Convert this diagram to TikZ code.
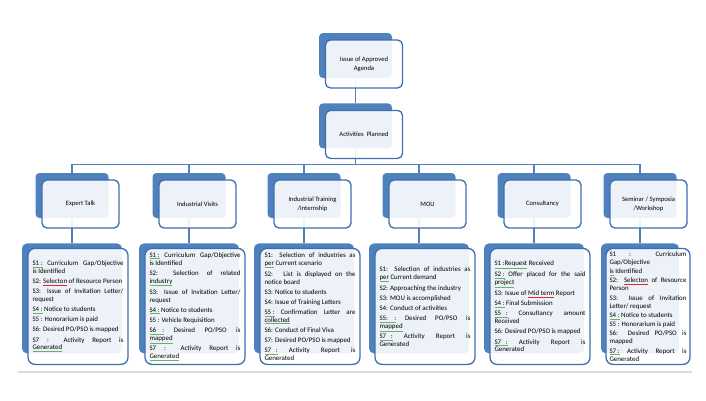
\documentclass[tikz,border=0pt]{standalone}
\usepackage{fontspec}
\setmainfont{Carlito}
\usepackage{xcolor}
\definecolor{cardblue}{RGB}{79,129,189}
\definecolor{cardedge}{RGB}{62,110,176}
\definecolor{rulegray}{RGB}{220,220,220}
\definecolor{gramgreen}{RGB}{100,180,100}
\definecolor{spellred}{RGB}{225,40,40}
\usepackage{tikz}
\usetikzlibrary{positioning,backgrounds,calc}
\newcommand{\gramul}[1]{\textcolor{gramgreen}{\underline{\textcolor{black}{#1}}}}
\newcommand{\spellul}[1]{\textcolor{spellred}{\underline{\textcolor{black}{#1}}}}

\begin{document}
\begin{tikzpicture}[
  x=1pt, y=-1pt,
  font=\fontsize{6.6}{9}\selectfont,
  cardback/.style={fill=cardblue, rounded corners=4pt, minimum width=73pt, minimum height=45pt, inner sep=0pt},
  cardfront/.style={draw=cardedge, line width=1.3pt, fill=white, fill opacity=0.9, text opacity=1, rounded corners=5pt, minimum width=77pt, minimum height=48pt, align=center, inner sep=1pt},
  listback/.style={fill=cardblue, rounded corners=5pt, minimum width=100pt, minimum height=110pt, inner sep=0pt},
  listfront/.style={draw=cardedge, line width=1.3pt, fill=white, fill opacity=0.9, text opacity=1, rounded corners=7pt, minimum width=100pt, minimum height=116pt, text width=91pt, align=justify, inner xsep=4.5pt, inner ysep=1pt, font=\fontsize{6.9}{7.9}\selectfont, execute at begin node={\setlength{\parskip}{2.2pt}}},
  link/.style={draw=cardblue, line width=1.6pt}
]
\useasboundingbox (0,0) rectangle (706,400);

% Agenda and plan
\node[cardback] (agenda) at (355.5,55.5) {};
\node[cardfront] (agendatxt) at ([shift={(8.5,8.5)}]agenda.center) {Issue of Approved\\Agenda};
\node[cardback, below=25pt of agenda] (planned) {};
\node[cardfront] (plannedtxt) at ([shift={(8.5,8.5)}]planned.center) {Activities~~Planned};

% Activities
\node[cardback] (expert) at (72,195.5) {};
\node[cardfront] (experttxt) at ([shift={(8.5,8.5)}]expert.center) {Expert Talk};
\node[cardback] (visits) at (189,195.5) {};
\node[cardfront] (visitstxt) at ([shift={(8.5,8.5)}]visits.center) {Industrial Visits};
\node[cardback] (training) at (304,195.5) {};
\node[cardfront] (trainingtxt) at ([shift={(8.5,8.5)}]training.center) {Industrial Training\\/Internship};
\node[cardback] (mou) at (419,195.5) {};
\node[cardfront] (moutxt) at ([shift={(8.5,8.5)}]mou.center) {MOU};
\node[cardback] (consult) at (534,195.5) {};
\node[cardfront] (consulttxt) at ([shift={(8.5,8.5)}]consult.center) {Consultancy};
\node[cardback] (seminar) at (640,195.5) {};
\node[cardfront] (seminartxt) at ([shift={(8.5,8.5)}]seminar.center) {Seminar / Symposia\\/Workshop};

% Step lists
\node[listback, below=25pt of expert] (expertlist) {};
\node[listfront] (expertitems) at ([shift={(6,8)}]expertlist.center) {%
\gramul{S1 :} Curriculum Gap/Objective\linebreak is Identified\par
S2: \spellul{Selecton} of Resource Person\par
S3: Issue of Invitation Letter/\linebreak request\par
\gramul{S4 :} Notice to students\par
S5 : Honorarium is paid\par
S6: Desired PO/PSO is mapped\par
S7 : Activity Report is\linebreak \gramul{Generated}};

\node[listback, below=25pt of visits] (visitslist) {};
\node[listfront] (visitsitems) at ([shift={(6,8)}]visitslist.center) {%
\gramul{S1 :} Curriculum Gap/Objective\linebreak is Identified\par
S2: Selection of related\linebreak \gramul{industry}\par
S3: Issue of Invitation Letter/\linebreak request\par
\gramul{S4 :} Notice to students\par
S5 : Vehicle Requisition\par
\gramul{S6\ \ \ \ :} Desired PO/PSO is\linebreak \gramul{mapped}\par
S7 : Activity Report is\linebreak \gramul{Generated}};

\node[listback, below=25pt of training] (traininglist) {};
\node[listfront] (trainingitems) at ([shift={(6,8)}]traininglist.center) {%
S1: Selection of industries as\linebreak \gramul{per} Current scenario\par
S2: \ List is displayed on the\linebreak notice board\par
S3: Notice to students\par
S4: Issue of Training Letters\par
\gramul{S5 :} Confirmation Letter are\linebreak \gramul{collected}\par
S6: Conduct of Final Viva\par
S7: Desired PO/PSO is mapped\par
\gramul{S7\ \ \ :} Activity Report is\linebreak Generated};

\node[listback, below=25pt of mou] (moulist) {};
\node[listfront] (mouitems) at ([shift={(6,8)}]moulist.center) {%
S1: Selection of industries as\linebreak \gramul{per} Current demand\par
S2: Approaching the industry\par
S3: MOU is accomplished\par
S4: Conduct of activities\par
\gramul{S5:\ \ \ \ :} Desired PO/PSO is\linebreak \gramul{mapped}\par
\gramul{S7\ \ \ :} Activity Report is\linebreak Generated};

\node[listback, below=25pt of consult] (consultlist) {};
\node[listfront] (consultitems) at ([shift={(6,8)}]consultlist.center) {%
\gramul{S1 :Request} Received\par
\gramul{S2 :} Offer placed for the said\linebreak \gramul{project}\par
S3: Issue of \spellul{Mid term} Report\par
\gramul{S4 :} Final Submission\par
\gramul{S5\ \ \ :} Consultancy amount\linebreak Received\par
S6: Desired PO/PSO is mapped\par
\gramul{S7\ \ \ :} Activity Report is\linebreak Generated};

\node[listback, minimum width=78pt, below=25pt of seminar] (seminarlist) {};
\node[listfront, minimum width=84pt, text width=77pt, inner xsep=3.5pt, execute at begin node={\setlength{\parskip}{1.4pt}}] (seminaritems) at ([shift={(8,8)}]seminarlist.center) {%
S1 : Curriculum\linebreak Gap/Objective\par
\gramul{is} Identified\par
S2: \spellul{Selecton} of Resource\linebreak Person\par
S3: Issue of Invitation\linebreak Letter/ request\par
\gramul{S4 :} Notice to students\par
S5 : Honorarium is paid\par
S6: Desired PO/PSO is\linebreak mapped\par
\gramul{S7 :} Activity Report is\linebreak Generated};

% Connectors
\begin{scope}[on background layer]
\draw[link] (agenda.center) -- (planned.north);
\draw[link] (planned.south) -- ++(0,16) -| (expert.north);
\draw[link] (planned.south) -- ++(0,16) -| (visits.north);
\draw[link] (planned.south) -- ++(0,16) -| (training.north);
\draw[link] (planned.south) -- ++(0,16) -| (mou.north);
\draw[link] (planned.south) -- ++(0,16) -| (consult.north);
\draw[link] (planned.south) -- ++(0,16) -| (seminar.north);
\draw[link] (expert.south) -- (expertlist.north);
\draw[link] (visits.south) -- (visitslist.north);
\draw[link] (training.south) -- (traininglist.north);
\draw[link] (mou.south) -- (moulist.north);
\draw[link] (consult.south) -- (consultlist.north);
\draw[link] (seminar.south) -- (seminarlist.north);
\end{scope}

% Bottom rule
\draw[rulegray, line width=1.2pt] (18,372) -- (692,372);
\end{tikzpicture}
\end{document}
